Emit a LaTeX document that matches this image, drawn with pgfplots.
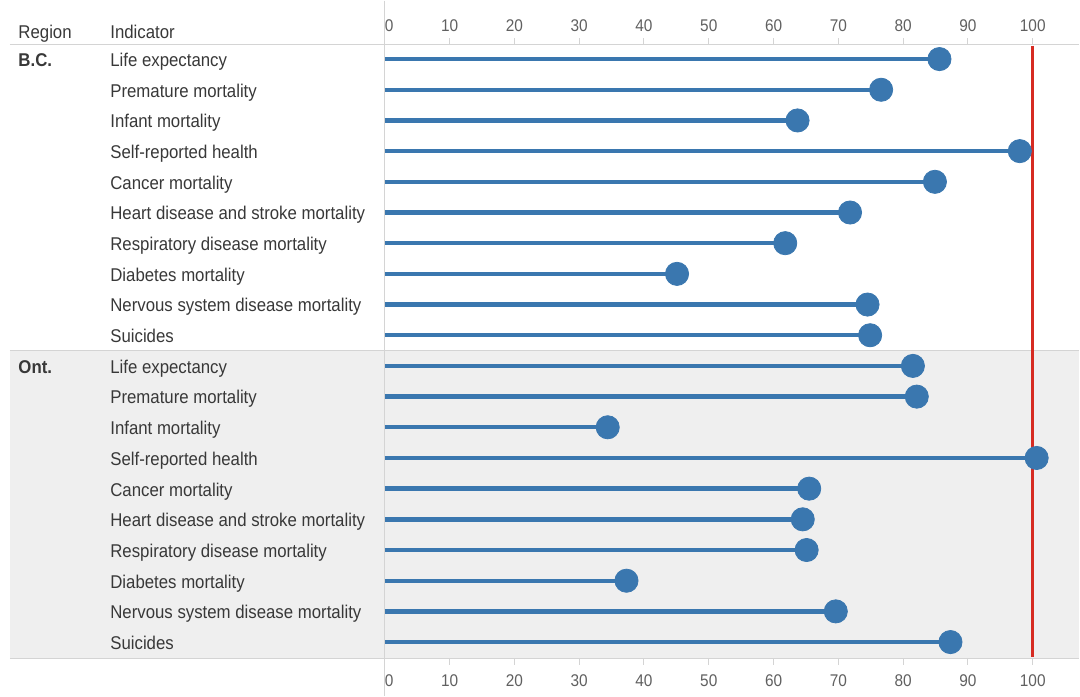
\documentclass[border=0pt]{standalone}
\usepackage{fontspec}
\setmainfont{Liberation Sans}
\usepackage{pgfplots}
\usepackage{pgfplotstable}
\pgfplotsset{compat=1.18}

\definecolor{lolli}{HTML}{3A77AF}
\definecolor{refred}{HTML}{D62B22}
\definecolor{rule}{HTML}{D4D4D4}
\definecolor{band}{HTML}{EFEFEF}
\definecolor{txt}{HTML}{383838}
\definecolor{tick}{HTML}{606060}

% row index (0 = top), value
\pgfplotstableread{
row val
0  85.6
1  76.6
2  63.7
3  98.0
4  84.9
5  71.8
6  61.8
7  45.1
8  74.5
9  74.9
}\bc
\pgfplotstableread{
row val
10 81.5
11 82.1
12 34.4
13 100.6
14 65.5
15 64.5
16 65.1
17 37.3
18 69.6
19 87.3
}\ont

\newcommand{\tl}[1]{\scalebox{1}[1.1]{#1}}

\pgfplotsset{
  lol/.style={
    x=3.2415pt, y=15.35pt,
    xmin=0, xmax=107.2,
    ymin=-0.472, ymax=19.53,
    y dir=reverse,
    clip=false,
    axis y line=none,
    axis line style={draw=none},
    xtick={0,10,...,100},
    xticklabels={\makebox[0pt][l]{\tl{0}},\tl{10},\tl{20},\tl{30},\tl{40},\tl{50},\tl{60},\tl{70},\tl{80},\tl{90},\tl{100}},
    tick align=outside,
    major tick length=3.2pt,
    tick style={draw=rule, line width=0.5pt},
    xticklabel style={font=\fontsize{7.7}{9}\selectfont, text=tick},
  },
}

\newcommand{\lab}[1]{\fontsize{8.4}{10}\selectfont\color{txt}\scalebox{1}[1.1]{#1}}
\newcommand{\ind}[2]{\node[anchor=base west, inner sep=0pt] at (axis cs:-42.42,#1+0.24) {\lab{#2}};}

\begin{document}
\begin{tikzpicture}
\begin{axis}[lol, axis x line*=top, xticklabel style={yshift=-0.3pt}]
  % picture frame
  \path (axis cs:-59.39,-1.906) rectangle (axis cs:107.2,20.765);
  % Ont. band and rules
  \fill[band] (axis cs:-57.85,9.5) rectangle (axis cs:107.2,19.53);
  \draw[rule, line width=0.6pt] (axis cs:-57.85,-0.472) -- (axis cs:107.2,-0.472);
  \draw[rule, line width=0.6pt] (axis cs:-57.85,9.5) -- (axis cs:107.2,9.5);
  \draw[rule, line width=0.6pt] (axis cs:-57.85,19.53) -- (axis cs:107.2,19.53);
  \draw[rule, line width=0.6pt] (axis cs:0,-1.906) -- (axis cs:0,20.765);

  % header
  \node[anchor=base west, inner sep=0pt] at (axis cs:-56.6,-0.68) {\lab{Region}};
  \node[anchor=base west, inner sep=0pt] at (axis cs:-42.42,-0.68) {\lab{Indicator}};
  \node[anchor=base west, inner sep=0pt] at (axis cs:-56.6,0.24) {\lab{\bfseries B.C.}};
  \node[anchor=base west, inner sep=0pt] at (axis cs:-56.6,10.24) {\lab{\bfseries Ont.}};

  % indicator labels
  \ind{0}{Life expectancy}
  \ind{1}{Premature mortality}
  \ind{2}{Infant mortality}
  \ind{3}{Self-reported health}
  \ind{4}{Cancer mortality}
  \ind{5}{Heart disease and stroke mortality}
  \ind{6}{Respiratory disease mortality}
  \ind{7}{Diabetes mortality}
  \ind{8}{Nervous system disease mortality}
  \ind{9}{Suicides}
  \ind{10}{Life expectancy}
  \ind{11}{Premature mortality}
  \ind{12}{Infant mortality}
  \ind{13}{Self-reported health}
  \ind{14}{Cancer mortality}
  \ind{15}{Heart disease and stroke mortality}
  \ind{16}{Respiratory disease mortality}
  \ind{17}{Diabetes mortality}
  \ind{18}{Nervous system disease mortality}
  \ind{19}{Suicides}

  % lollipops
  \addplot[xcomb, lolli, line width=2.2pt] table[x=val, y=row] {\bc};
  \addplot[xcomb, lolli, line width=2.2pt] table[x=val, y=row] {\ont};
  \addplot[refred, line width=1.5pt] coordinates {(100,-0.44) (100,19.5)};
  \addplot[only marks, mark=*, mark size=5.8pt, lolli, mark options={draw=lolli, fill=lolli}] table[x=val, y=row] {\bc};
  \addplot[only marks, mark=*, mark size=5.8pt, lolli, mark options={draw=lolli, fill=lolli}] table[x=val, y=row] {\ont};
\end{axis}
\begin{axis}[lol, axis x line*=bottom, xticklabel style={yshift=-1.2pt}]
  \addplot[draw=none] coordinates {(0,0)};
\end{axis}
\end{tikzpicture}
\end{document}
